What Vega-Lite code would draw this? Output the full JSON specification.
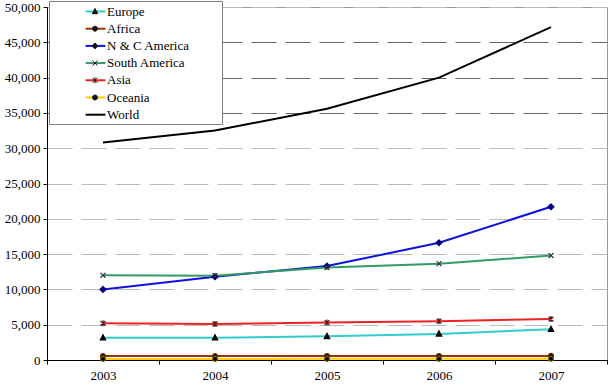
{
  "$schema": "https://vega.github.io/schema/vega-lite/v6.json",
  "width": 560,
  "height": 353,
  "autosize": {"type": "none"},
  "padding": {"left": 47, "top": 7, "right": 4, "bottom": 26},
  "background": "white",
  "config": {
    "view": {"stroke": "#999999", "strokeWidth": 1},
    "font": "Liberation Serif"
  },
  "data": {
    "values": [
      {"year": "2003", "region": "Europe", "value": 3150},
      {"year": "2004", "region": "Europe", "value": 3150},
      {"year": "2005", "region": "Europe", "value": 3350},
      {"year": "2006", "region": "Europe", "value": 3700},
      {"year": "2007", "region": "Europe", "value": 4350},
      {"year": "2003", "region": "Africa", "value": 550},
      {"year": "2004", "region": "Africa", "value": 550},
      {"year": "2005", "region": "Africa", "value": 560},
      {"year": "2006", "region": "Africa", "value": 570},
      {"year": "2007", "region": "Africa", "value": 580},
      {"year": "2003", "region": "N & C America", "value": 10000},
      {"year": "2004", "region": "N & C America", "value": 11800},
      {"year": "2005", "region": "N & C America", "value": 13300},
      {"year": "2006", "region": "N & C America", "value": 16600},
      {"year": "2007", "region": "N & C America", "value": 21700},
      {"year": "2003", "region": "South America", "value": 12000},
      {"year": "2004", "region": "South America", "value": 11950},
      {"year": "2005", "region": "South America", "value": 13100},
      {"year": "2006", "region": "South America", "value": 13650},
      {"year": "2007", "region": "South America", "value": 14800},
      {"year": "2003", "region": "Asia", "value": 5200},
      {"year": "2004", "region": "Asia", "value": 5100},
      {"year": "2005", "region": "Asia", "value": 5300},
      {"year": "2006", "region": "Asia", "value": 5500},
      {"year": "2007", "region": "Asia", "value": 5800},
      {"year": "2003", "region": "Oceania", "value": 150},
      {"year": "2004", "region": "Oceania", "value": 150},
      {"year": "2005", "region": "Oceania", "value": 160},
      {"year": "2006", "region": "Oceania", "value": 170},
      {"year": "2007", "region": "Oceania", "value": 180},
      {"year": "2003", "region": "World", "value": 30800},
      {"year": "2004", "region": "World", "value": 32500},
      {"year": "2005", "region": "World", "value": 35600},
      {"year": "2006", "region": "World", "value": 40000},
      {"year": "2007", "region": "World", "value": 47150}
    ]
  },
  "encoding": {
    "x": {
      "field": "year", "type": "ordinal",
      "scale": {"type": "band", "paddingInner": 0, "paddingOuter": 0},
      "axis": {
        "title": null, "labelAngle": 0, "tickBand": "extent",
        "domainColor": "black", "tickColor": "black", "tickSize": 4,
        "labelFont": "Liberation Serif", "labelFontSize": 13, "labelColor": "black",
        "labelPadding": 5, "grid": false
      }
    },
    "y": {
      "field": "value", "type": "quantitative",
      "scale": {"domain": [0, 50000], "nice": false},
      "axis": {
        "title": null, "format": ",.0f",
        "values": [0, 5000, 10000, 15000, 20000, 25000, 30000, 35000, 40000, 45000, 50000],
        "domainColor": "black", "tickColor": "black", "tickSize": 4,
        "labelFont": "Liberation Serif", "labelFontSize": 13, "labelColor": "black",
        "labelPadding": 3,
        "grid": true, "gridDash": [25, 9], "gridWidth": 1,
        "gridColor": {"condition": {"test": "datum.value >= 35000 && datum.value < 50000", "value": "#666666"}, "value": "#bbbbbb"}
      }
    }
  },
  "layer": [
    {
      "mark": {"type": "line", "strokeWidth": 2},
      "encoding": {
        "color": {
          "field": "region", "type": "nominal",
          "scale": {
            "domain": ["Europe", "Africa", "N & C America", "South America", "Asia", "Oceania", "World"],
            "range": ["#33CCCC", "#993300", "#1010E0", "#339966", "#EE2222", "#FFCC00", "#000000"]
          },
          "legend": {
            "orient": "none", "legendX": 2, "legendY": -6, "title": null, "zindex": 1,
            "labelFont": "Liberation Serif", "labelFontSize": 13, "labelColor": "black",
            "fillColor": "white", "strokeColor": "#808080", "padding": 2,
            "symbolOffset": 36, "labelOffset": 3, "rowPadding": 1.2,
            "symbolSize": 200, "symbolStrokeWidth": 2, "symbolType": "M-1.4,0H1.4",
            "labelExpr": "datum.label + '\u2800\u2800\u2800'"
          }
        }
      }
    },
    {
      "transform": [{"filter": "datum.region !== 'World'"}],
      "mark": {"type": "point", "strokeWidth": 1.2, "opacity": 1},
      "encoding": {
        "shape": {
          "field": "region", "type": "nominal",
          "scale": {
            "domain": ["Europe", "Africa", "N & C America", "South America", "Asia", "Oceania", "World", " "],
            "range": [
              "M0,-0.42L0.38,0.31L-0.38,0.31Z",
              "M-0.35,0A0.35,0.35,0,1,1,0.35,0A0.35,0.35,0,1,1,-0.35,0Z",
              "M0,-0.42L0.42,0L0,0.42L-0.42,0Z",
              "M-0.35,-0.35L0.35,0.35M-0.35,0.35L0.35,-0.35",
              "M-0.35,-0.35L0.35,0.35M-0.35,0.35L0.35,-0.35M0,-0.42L0,0.42",
              "M-0.35,0A0.35,0.35,0,1,1,0.35,0A0.35,0.35,0,1,1,-0.35,0Z",
              "M0,0",
              "M0,0"
            ]
          },
          "legend": {
            "orient": "none", "legendX": 2, "legendY": -5.5, "title": null, "zindex": 2,
            "values": ["Europe", "Africa", "N & C America", "South America", "Asia", "Oceania", "World"],
            "labelFont": "Liberation Serif", "labelFontSize": 13, "labelExpr": "''",
            "padding": 2, "fillColor": "transparent", "strokeColor": "transparent",
            "symbolOffset": 36, "labelOffset": 3, "rowPadding": 2.2,
            "symbolSize": 200, "symbolStrokeWidth": 1, "symbolFillColor": "#111111", "symbolStrokeColor": "#111111"
          }
        },
        "size": {"value": 200},
        "fill": {
          "field": "region", "type": "nominal", "legend": null,
          "scale": {
            "domain": ["Europe", "Africa", "N & C America", "South America", "Asia", "Oceania"],
            "range": ["#000000", "#1a0a00", "#000080", "#333333", "#222222", "#000000"]
          }
        },
        "stroke": {
          "field": "region", "type": "nominal", "legend": null,
          "scale": {
            "domain": ["Europe", "Africa", "N & C America", "South America", "Asia", "Oceania"],
            "range": ["#000000", "#552200", "#000080", "#333333", "#441111", "#806600"]
          }
        }
      }
    }
  ]
}
